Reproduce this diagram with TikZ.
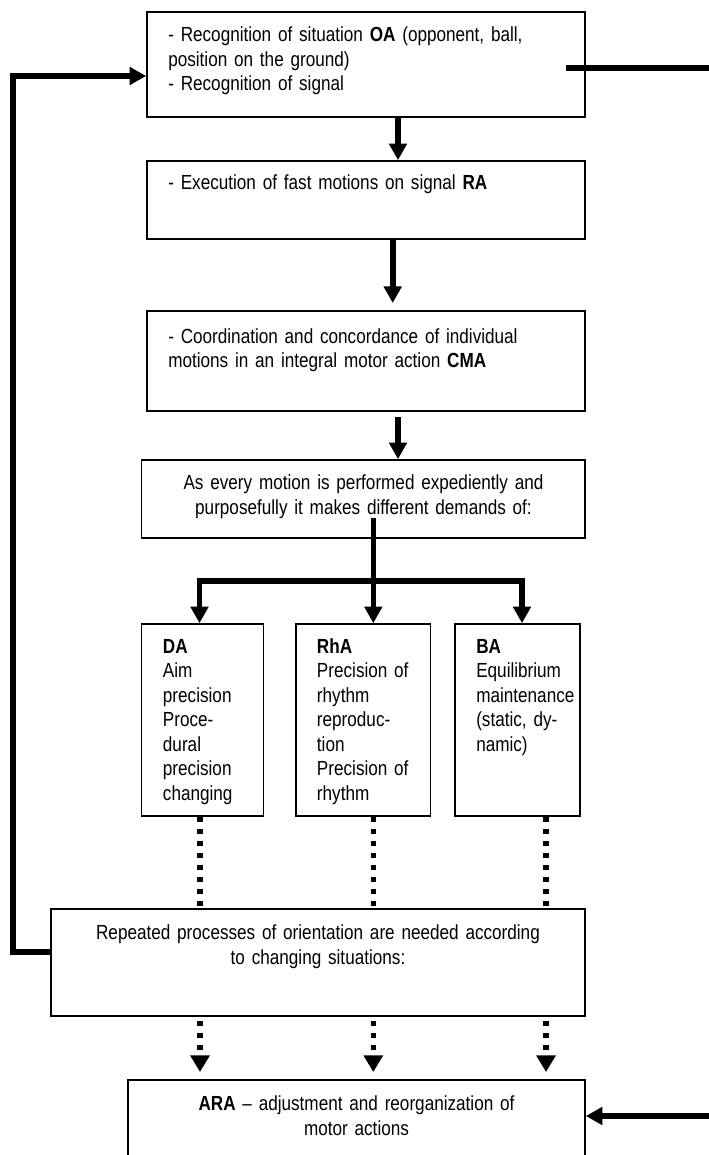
\documentclass[tikz,border=0pt]{standalone}
\usepackage{fontspec}
\setmainfont{Liberation Sans}[FakeStretch=0.84]
\usetikzlibrary{arrows.meta,fit}
\tikzset{
  box/.style={draw=black, line width=1.2pt, inner sep=0pt},
  txtl/.style={inner sep=0pt, anchor=base west, align=left, text width=#1,
    font={\fontsize{15.3pt}{18.4pt}\selectfont}},
  txtc/.style={inner sep=0pt, anchor=base, align=center, text width=#1,
    font={\fontsize{15.3pt}{18.4pt}\selectfont}},
  thickline/.style={line width=4.2pt, draw=black},
  arr/.style={thickline, -{Triangle[length=12.5pt,width=13pt]}},
  barr/.style={thickline, {Triangle[length=12.5pt,width=13pt]}-{Triangle[length=12.5pt,width=13pt]}},
  dotline/.style={line width=3.8pt, draw=black, dash pattern=on 3.6pt off 5.4pt},
  dotarr/.style={dotline, -{Triangle[length=12.5pt,width=14pt]}}
}
\begin{document}
\begin{tikzpicture}[x=0.75pt,y=-0.75pt]
\useasboundingbox (0,0) rectangle (709,1155);
\fill[white] (0,0) rectangle (709,1155);
\clip (0,0) rectangle (709,1155);

% boxes
\node[box, fit={(147,12) (585,117)}] (b1) {};
\node[box, fit={(147,161) (585,239)}] (b2) {};
\node[box, fit={(147,311) (585,411)}] (b3) {};
\node[box, fit={(141.5,460) (585,538)}] (b4) {};
\node[box, fit={(141.5,624) (263.5,816)}] (bDA) {};
\node[box, fit={(296,624) (430.5,816)}] (bRhA) {};
\node[box, fit={(455,624) (580,816)}] (bBA) {};
\node[box, fit={(51,909) (585,1016)}] (b5) {};
\node[box, fit={(128,1080) (585,1175)}] (bARA) {};

% texts
\node[txtl=330pt] (t1) at (168,41.5) {- Recognition of situation \textbf{OA} (opponent, ball,\\position on the ground)\\- Recognition of signal};
\node[txtl=330pt] (t2) at (168,190) {- Execution of fast motions on signal \textbf{RA}};
\node[txtl=330pt] (t3) at (168,343) {- Coordination and concordance of individual\\motions in an integral motor action \textbf{CMA}};
\node[txtc=320pt] (t4) at (363.5,489.5) {As every motion is performed expediently and\\purposefully it makes different demands of:};
\node[txtl=90pt] (tDA) at (162.7,653) {\textbf{DA}\\Aim\\precision\\Proce-\\dural\\precision\\changing};
\node[txtl=100pt] (tRhA) at (316.7,653) {\textbf{RhA}\\Precision of\\rhythm\\reproduc-\\tion\\Precision of\\rhythm};
\node[txtl=100pt] (tBA) at (476,653) {\textbf{BA}\\Equilibrium\\maintenance\\(static, dy-\\namic)};
\node[txtc=390pt] (t5) at (318,939.5) {Repeated processes of orientation are needed according\\to changing situations:};
\node[txtc=340pt] (tARA) at (356.5,1110.5) {\textbf{ARA} – adjustment and reorganization of\\motor actions};

% helper coordinates
\coordinate (a1) at (398,0);
\coordinate (a2e) at (392.7,303);
\coordinate (a3s) at (398,417);
\coordinate (a4s) at (373.3,518);
\coordinate (split) at (373.3,581);
\coordinate (daX) at (199.5,0);
\coordinate (baX) at (522,0);
\coordinate (d1) at (200,0);
\coordinate (d2) at (373.3,0);
\coordinate (d3) at (546,0);
\coordinate (e1s) at (200,1021);
\coordinate (e2s) at (373.3,1021);
\coordinate (e3s) at (546,1021);
\coordinate (e1e) at (200,1072);
\coordinate (e2e) at (373.3,1072);
\coordinate (e3e) at (546,1072);
\coordinate (fb1) at (51,952);
\coordinate (fb2) at (13,76);
\coordinate (r1) at (566,68);
\coordinate (r2) at (712,68);
\coordinate (r3) at (712,1116);

% solid connectors
\draw[arr] (b1.south -| a1) -- (b2.north -| a1);
\draw[arr] (b2.south -| a2e) -- (a2e);
\draw[arr] (a3s) -- (b4.north -| a3s);
\draw[arr] (a4s) -- (bRhA.north -| a4s);
\draw[barr] (bDA.north -| daX) |- (split) -| (bBA.north -| baX);
\draw[arr] (b5.west |- fb1) -| (fb2) -- (b1.west |- fb2);
\draw[thickline] (r1) -- (r2);
\draw[arr] (r3) -- (bARA.east |- r3);

% dotted connectors
\draw[dotline] (bDA.south -| d1) -- (b5.north -| d1);
\draw[dotline] (bRhA.south -| d2) -- (b5.north -| d2);
\draw[dotline] (bBA.south -| d3) -- (b5.north -| d3);
\draw[dotarr] (e1s) -- (e1e);
\draw[dotarr] (e2s) -- (e2e);
\draw[dotarr] (e3s) -- (e3e);
\end{tikzpicture}
\end{document}
